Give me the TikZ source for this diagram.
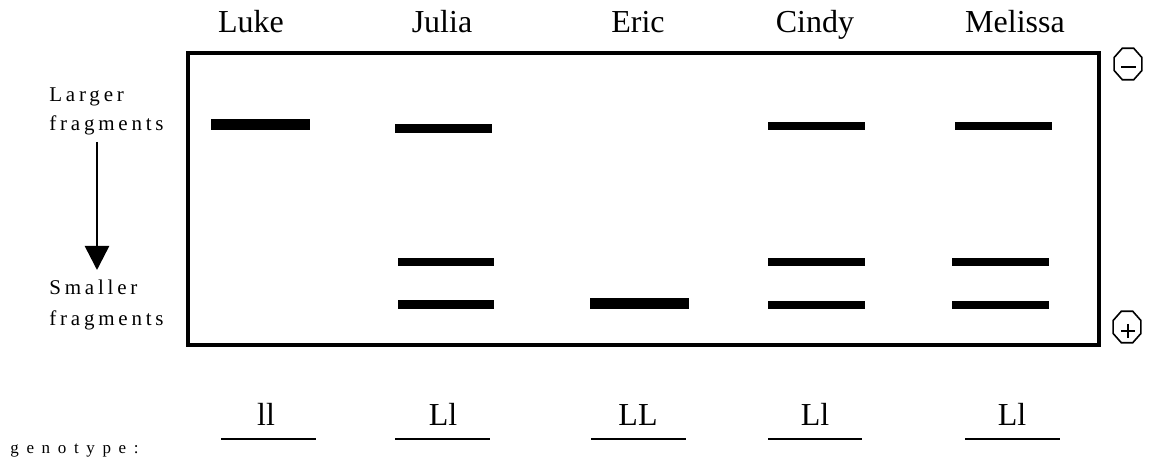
\documentclass[tikz,border=0pt]{standalone}
\usepackage{fontspec}
\setmainfont{Liberation Serif}
\usetikzlibrary{arrows.meta}
\begin{document}
\begin{tikzpicture}[x=0.5pt,y=-0.5pt,
  lane/.style={font=\fontsize{16}{19}\selectfont, anchor=base, inner sep=0pt},
  side/.style={font=\fontsize{10.5}{14}\selectfont\addfontfeature{LetterSpace=18}, anchor=base west, inner sep=0pt},
  genolbl/.style={font=\fontsize{8.5}{11}\selectfont\addfontfeature{LetterSpace=45}, anchor=base west, inner sep=0pt},
  band/.style={fill=black},
  gel/.style={draw=black, line width=1.6pt},
  uline/.style={line width=1.4pt},
  octo/.style={line width=0.8pt},
  sign/.style={line width=0.7pt},
  flow/.style={line width=1.3pt, -{Triangle[width=12pt,length=12pt]}},
]
\useasboundingbox (0,0) rectangle (1150,459);

% gel box
\draw[gel] (188,53) rectangle (1099,345);

% lane names
\node[lane] (luke) at (251,33) {Luke};
\node[lane] (julia) at (442,33) {Julia};
\node[lane] (eric) at (638,33) {Eric};
\node[lane] (cindy) at (815,33) {Cindy};
\node[lane] (melissa) at (1015,33) {Melissa};

% bands
\fill[band] (211,119) rectangle (310,130);
\fill[band] (395,124) rectangle (492,133);
\fill[band] (398,258) rectangle (494,266);
\fill[band] (398,300) rectangle (494,309);
\fill[band] (590,298) rectangle (689,309);
\fill[band] (768,122) rectangle (865,130);
\fill[band] (768,258) rectangle (865,266);
\fill[band] (768,301) rectangle (865,309);
\fill[band] (955,122) rectangle (1052,130);
\fill[band] (952,258) rectangle (1049,266);
\fill[band] (952,301) rectangle (1049,309);

% side labels
\node[side] (l1) at (49,102) {Larger};
\node[side] (l2) at (49,131) {fragments};
\node[side] (s1) at (49,295) {Smaller};
\node[side] (s2) at (49,326) {fragments};
\coordinate (atop) at (97,142);
\coordinate (abot) at (97,270);
\draw[flow] (atop) -- (abot);

% electrodes
\coordinate (neg) at (1128,64);
\draw[octo,shift={(neg)}] (22.5:15 and 17) -- (67.5:15 and 17) -- (112.5:15 and 17) -- (157.5:15 and 17) -- (202.5:15 and 17) -- (247.5:15 and 17) -- (292.5:15 and 17) -- (337.5:15 and 17) -- cycle;
\draw[sign] (1121,67) -- (1136,67);
\coordinate (pos) at (1127,327);
\draw[octo,shift={(pos)}] (22.5:15 and 17) -- (67.5:15 and 17) -- (112.5:15 and 17) -- (157.5:15 and 17) -- (202.5:15 and 17) -- (247.5:15 and 17) -- (292.5:15 and 17) -- (337.5:15 and 17) -- cycle;
\draw[sign] (1121,331) -- (1135,331) (1128,324) -- (1128,338);

% genotypes
\node[genolbl] (gt) at (10,453) {genotype:};
\node[lane] (g1) at (266,425) {ll};
\node[lane] (g2) at (443,425) {Ll};
\node[lane] (g3) at (638,425) {LL};
\node[lane] (g4) at (815,425) {Ll};
\node[lane] (g5) at (1012,425) {Ll};
\draw[uline] (221,439) -- (316,439);
\draw[uline] (395,439) -- (490,439);
\draw[uline] (591,439) -- (686,439);
\draw[uline] (768,439) -- (862,439);
\draw[uline] (965,439) -- (1060,439);
\end{tikzpicture}
\end{document}
